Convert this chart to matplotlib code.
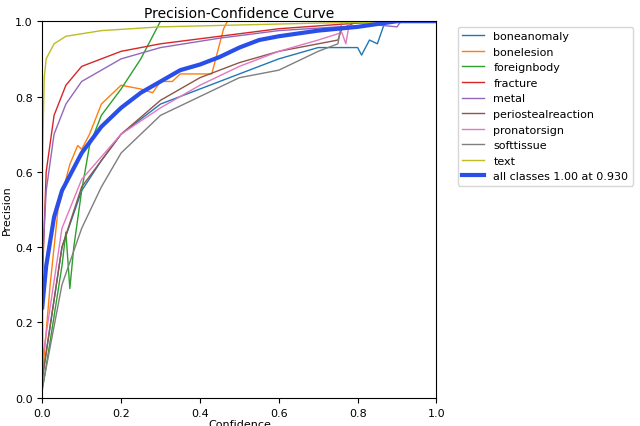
import matplotlib
matplotlib.use("Agg")
import matplotlib.pyplot as plt
import numpy as np

# (confidence, precision) points
boneanomaly = [(0, .05), (.05, .4), (.1, .55), (.15, .63), (.2, .7), (.3, .78), (.4, .82), (.5, .86),
               (.6, .9), (.7, .93), (.8, .93), (.81, .91), (.83, .95), (.85, .94), (.87, 1), (1, 1)]
bonelesion = [(0, .05), (.02, .3), (.04, .5), (.07, .62), (.09, .67), (.1, .66), (.12, .7), (.15, .78),
              (.2, .83), (.25, .82), (.28, .81), (.3, .84), (.33, .84), (.35, .86), (.43, .86),
              (.44, .9), (.46, .98), (.47, 1), (1, 1)]
foreignbody = [(0, .02), (.02, .15), (.05, .35), (.06, .44), (.07, .29), (.08, .4), (.1, .55), (.12, .67),
               (.15, .75), (.2, .82), (.25, .9), (.3, 1), (1, 1)]
fracture = [(0, .3), (.01, .6), (.03, .75), (.06, .83), (.1, .88), (.2, .92), (.3, .94), (.45, .96),
            (.6, .98), (.8, .995), (1, 1)]
metal = [(0, .35), (.01, .55), (.03, .7), (.06, .78), (.1, .84), (.2, .9), (.3, .93), (.45, .955),
         (.6, .975), (.75, .985), (.85, .99), (.9, .985), (.91, 1), (1, 1)]
periostealreaction = [(0, .05), (.05, .4), (.1, .56), (.2, .7), (.3, .79), (.4, .85), (.5, .89), (.6, .92),
                      (.7, .94), (.75, .95), (.76, .98), (.8, 1), (1, 1)]
pronatorsign = [(0, .1), (.05, .45), (.1, .58), (.2, .7), (.3, .77), (.4, .83), (.5, .88), (.6, .92),
                (.7, .95), (.76, .97), (.77, .94), (.78, 1), (1, 1)]
softtissue = [(0, 1), (.001, .03), (.05, .3), (.1, .45), (.15, .56), (.2, .65), (.3, .75), (.4, .8),
              (.5, .85), (.6, .87), (.7, .92), (.75, .94), (.76, 1), (1, 1)]
text = [(0, .6), (.005, .85), (.01, .9), (.03, .94), (.06, .96), (.15, .975), (.3, .985), (.5, .99),
        (.7, .995), (1, 1)]
all_classes = [(0, .24), (.01, .35), (.03, .48), (.05, .55), (.1, .65), (.15, .72), (.2, .77), (.25, .81),
               (.3, .84), (.35, .87), (.4, .885), (.45, .905), (.5, .93), (.55, .95), (.6, .96),
               (.7, .975), (.8, .985), (.9, 1), (1, 1)]

classes = [("boneanomaly", boneanomaly), ("bonelesion", bonelesion), ("foreignbody", foreignbody),
           ("fracture", fracture), ("metal", metal), ("periostealreaction", periostealreaction),
           ("pronatorsign", pronatorsign), ("softtissue", softtissue), ("text", text)]

fig = plt.figure(figsize=(6.4, 4.27), dpi=100)
ax = fig.add_axes([0.066, 0.066, 0.616, 0.882])
for name, pts in classes:
    p = np.array(pts)
    ax.plot(p[:, 0], p[:, 1], lw=1, label=name)
p = np.array(all_classes)
ax.plot(p[:, 0], p[:, 1], lw=3, color="#2a4fe8", label="all classes 1.00 at 0.930")
ax.set_xlim(0, 1); ax.set_ylim(0, 1)
ax.set_xlabel("Confidence", fontsize=8, labelpad=1)
ax.set_ylabel("Precision", fontsize=8, labelpad=2)
ax.tick_params(labelsize=8)
ax.set_title("Precision-Confidence Curve", fontsize=10, pad=3)
ax.legend(bbox_to_anchor=(1.04, 1), loc="upper left", fontsize=8)
fig.savefig("out.png", dpi=100)
